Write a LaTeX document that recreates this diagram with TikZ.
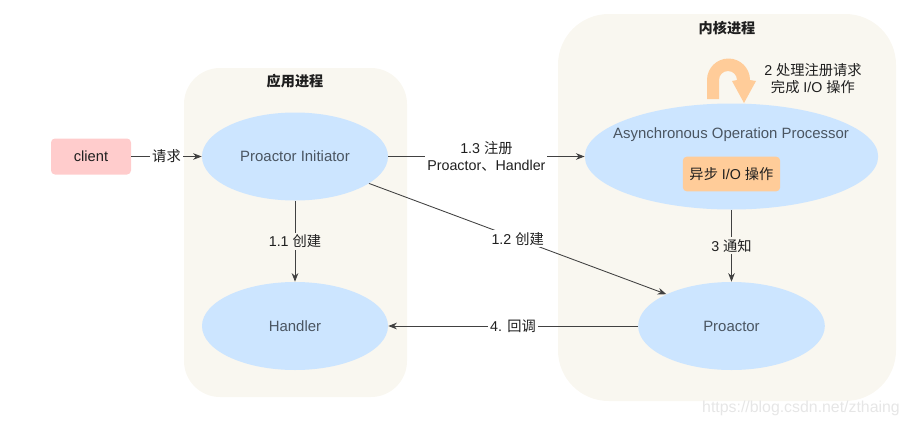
\documentclass[tikz,border=0pt]{standalone}
\usepackage{fontspec}
\setmainfont{Liberation Sans}
\newfontfamily\cjk{Noto Sans CJK SC}
\definecolor{panelcream}{HTML}{F9F7F0}
\definecolor{procblue}{HTML}{CCE5FF}
\definecolor{clientpink}{HTML}{FFCCCC}
\definecolor{taskorange}{HTML}{FFCC99}
\definecolor{charcoal}{HTML}{1F1F1F}
\definecolor{slategray}{HTML}{4A5561}
\definecolor{markgray}{HTML}{E6E6E6}
\usetikzlibrary{arrows.meta,shapes.geometric}
\tikzset{
  proc/.style={ellipse,fill=procblue,inner sep=0pt,text=slategray,font=\fontsize{11.2}{13}\selectfont},
  panel/.style={fill=panelcream},
  tag/.style={text=charcoal,inner sep=1.5pt,align=center,font=\fontsize{10.7}{12.8}\selectfont},
  conn/.style={-{Stealth[length=6.5pt,width=5pt]},charcoal!85,line width=0.65pt},
}
\begin{document}
\begin{tikzpicture}[x=0.75pt,y=-0.75pt]
  \useasboundingbox (0,0) rectangle (908,426);
  \fill[panel,rounded corners=27pt] (184,68) rectangle (407,397);
  \fill[panel,rounded corners=38pt] (558,14) rectangle (896,401);
  \node[tag,font=\fontsize{10.6}{12}\selectfont\cjk\bfseries] (apptitle) at (295,81) {应用进程};
  \node[tag,font=\fontsize{10.6}{12}\selectfont\cjk\bfseries] (kerneltitle) at (727,28) {内核进程};
  \node[fill=clientpink,rounded corners=3pt,minimum width=60pt,minimum height=27pt,inner sep=0pt,text=charcoal,font=\fontsize{11}{13}\selectfont] (client) at (91,156.5) {client};
  \node[proc,minimum width=139.5pt,minimum height=66pt] (initiator) at (295,156.5) {Proactor Initiator};
  \node[proc,minimum width=139.5pt,minimum height=66pt] (handler) at (295,326) {Handler};
  \node[proc,minimum width=220pt,minimum height=79.5pt] (processor) at (731.5,156.5) {};
  \node[proc,minimum width=140pt,minimum height=66pt] (proactor) at (731.5,326) {Proactor};
  \node[text=slategray,inner sep=0pt,font=\fontsize{11.2}{13}\selectfont] (processorlabel) at (731,135) {Asynchronous Operation Processor};
  \node[fill=taskorange,rounded corners=3pt,minimum width=73pt,minimum height=26pt,inner sep=0pt,text=charcoal,font=\fontsize{10.7}{13}\selectfont] (iotask) at (731.5,174) {{\cjk 异步} I/O {\cjk 操作}};
  \fill[taskorange] (707,99) -- (707,80) arc (180:360:21.5) -- (756,81) -- (744,103) -- (732,81) -- (737,80) arc (360:180:9) -- (719,99) -- cycle;
  \node[tag] (selflabel) at (813,79) {2 {\cjk 处理注册请求}\\{\cjk 完成} I/O {\cjk 操作}};
  \draw[conn] (client) -- node[tag,fill=white] (reqlabel) {\cjk 请求} (initiator);
  \draw[conn] (initiator) -- node[tag,fill=white,pos=0.5] (reglabel) {1.3 {\cjk 注册}\\Proactor{\cjk 、}Handler} (processor);
  \draw[conn] (initiator) -- node[tag,fill=panelcream,pos=0.5] (createlabel) {1.1 {\cjk 创建}} (handler);
  \draw[conn] (initiator.-20) -- node[tag,fill=white,pos=0.5] (proactorlabel) {1.2 {\cjk 创建}} (proactor.154);
  \draw[conn] (processor) -- node[tag,fill=panelcream] (notifylabel) {3 {\cjk 通知}} (proactor);
  \draw[conn] (proactor) -- node[tag,fill=white,pos=0.5] (calllabel) {4. {\cjk 回调}} (handler);
  \node[text=markgray,inner sep=0pt,font=\fontsize{11.9}{14}\selectfont] (watermark) at (801,408) {https://blog.csdn.net/zthaing};
\end{tikzpicture}
\end{document}
